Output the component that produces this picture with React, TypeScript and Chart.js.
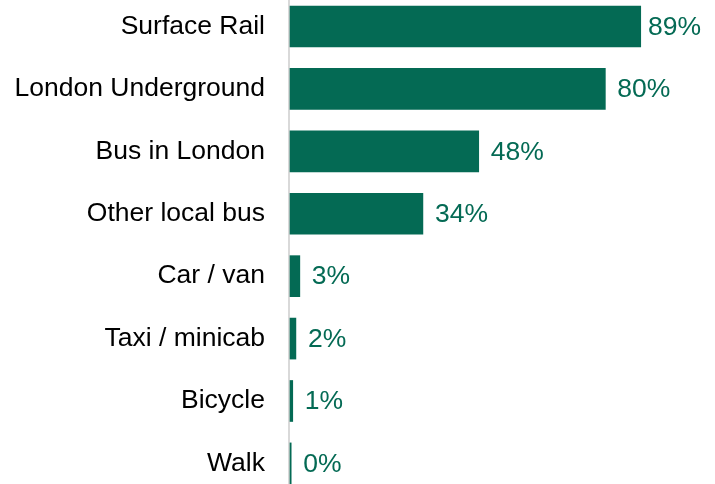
import React, { useEffect, useRef } from "react";
import { Chart, registerables } from "chart.js";

Chart.register(...registerables);

const categories = [
  "Surface Rail",
  "London Underground",
  "Bus in London",
  "Other local bus",
  "Car / van",
  "Taxi / minicab",
  "Bicycle",
  "Walk",
];
const shares = [89.2, 80.2, 48.0, 33.8, 2.5, 1.5, 0.7, 0.3];

const GREEN = "#046a54";
const FONT = "'Liberation Sans', Arial, sans-serif";

export default function App() {
  const ref = useRef<HTMLCanvasElement | null>(null);

  useEffect(() => {
    if (!ref.current) return;
    const axisLine = {
      id: "axisLine",
      beforeDatasetsDraw(chart: any) {
        const { ctx, chartArea, height } = chart;
        ctx.save();
        ctx.strokeStyle = "#d9d9d9";
        ctx.lineWidth = 2;
        ctx.beginPath();
        ctx.moveTo(chartArea.left - 1, 0);
        ctx.lineTo(chartArea.left - 1, height);
        ctx.stroke();
        ctx.restore();
      },
    };
    const valueLabels = {
      id: "valueLabels",
      afterDatasetsDraw(chart: any) {
        const { ctx } = chart;
        const meta = chart.getDatasetMeta(0);
        ctx.save();
        ctx.font = `26.5px ${FONT}`;
        ctx.fillStyle = GREEN;
        ctx.textBaseline = "middle";
        ctx.textAlign = "left";
        meta.data.forEach((bar: any, i: number) => {
          const text = Math.round(shares[i]) + "%";
          const w = ctx.measureText(text).width;
          let x = bar.x + 12;
          if (x + w > 701) x = 701 - w;
          ctx.fillText(text, x, bar.y + 1);
        });
        ctx.restore();
      },
    };
    const chart = new Chart(ref.current, {
      type: "bar",
      data: {
        labels: categories,
        datasets: [
          {
            data: shares,
            backgroundColor: GREEN,
            borderWidth: 0,
            barThickness: 41,
            clip: false as any,
          },
        ],
      },
      options: {
        indexAxis: "y",
        animation: false,
        responsive: false,
        maintainAspectRatio: false,
        devicePixelRatio: 1,
        layout: { padding: { top: 26.5, bottom: 20.6, right: 31.8, left: 0 } },
        plugins: {
          legend: { display: false },
          tooltip: { enabled: false },
        },
        scales: {
          x: { display: false, min: 0, max: 100 },
          y: {
            offset: false,
            grid: { display: false },
            border: { display: false },
            ticks: {
              color: "#000000",
              padding: 17,
              font: { size: 26.5, family: FONT },
            },
            afterFit: (s: any) => {
              s.width = 290;
              s.paddingTop = 0;
              s.paddingBottom = 0;
            },
          },
        },
      },
      plugins: [axisLine, valueLabels],
    });
    return () => chart.destroy();
  }, []);

  return (
    <div style={{ position: "absolute", left: 0, top: 0, width: 715, height: 484, background: "#fff" }}>
      <canvas ref={ref} width={715} height={484} style={{ width: 715, height: 484 }} />
    </div>
  );
}
